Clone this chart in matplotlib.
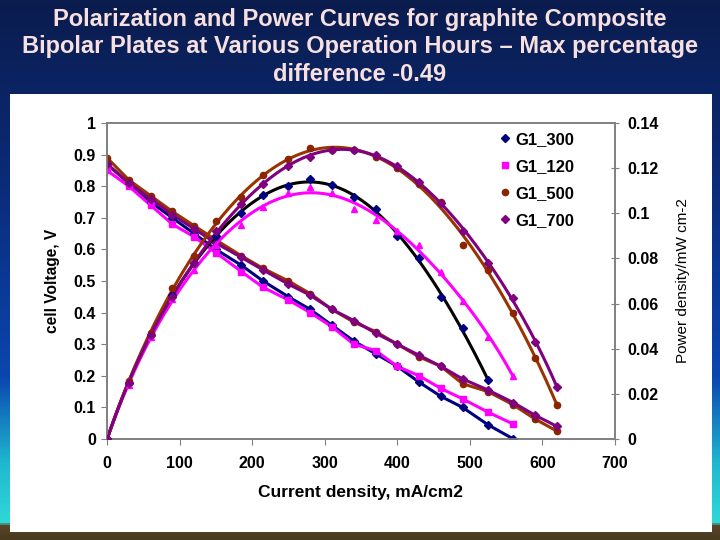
import numpy as np
import matplotlib
matplotlib.use("Agg")
import matplotlib.pyplot as plt
from matplotlib.colors import LinearSegmentedColormap
from matplotlib.patches import Rectangle

plt.rcParams['font.family'] = ['Liberation Sans', 'DejaVu Sans']

# current density steps (mA/cm2)
current = [0, 30, 60, 90, 120, 150, 185, 215, 250, 280, 310, 340, 370, 400,
           430, 460, 490, 525, 560, 590, 620]

# cell voltage, V
volt_300 = [0.87, 0.81, 0.75, 0.70, 0.65, 0.60, 0.55, 0.50, 0.45, 0.41, 0.36,
            0.31, 0.27, 0.23, 0.18, 0.135, 0.10, 0.045, 0.0]
volt_120 = [0.85, 0.80, 0.74, 0.68, 0.64, 0.59, 0.53, 0.48, 0.44, 0.40, 0.355,
            0.30, 0.28, 0.23, 0.20, 0.16, 0.127, 0.085, 0.047]
volt_500 = [0.89, 0.82, 0.77, 0.72, 0.675, 0.63, 0.58, 0.54, 0.50, 0.46, 0.41,
            0.37, 0.34, 0.30, 0.26, 0.23, 0.175, 0.15, 0.108, 0.063, 0.025]
volt_700 = [0.87, 0.81, 0.76, 0.71, 0.665, 0.62, 0.575, 0.535, 0.49, 0.455, 0.41,
            0.375, 0.335, 0.30, 0.265, 0.23, 0.19, 0.155, 0.115, 0.075, 0.04]

# power density
pow_300 = [0, 0.025, 0.046, 0.064, 0.078, 0.090, 0.100, 0.108, 0.112, 0.115,
           0.1125, 0.107, 0.102, 0.090, 0.080, 0.063, 0.049, 0.026]
pow_120 = [0, 0.024, 0.045, 0.062, 0.075, 0.086, 0.095, 0.103, 0.109, 0.1115,
           0.109, 0.102, 0.097, 0.092, 0.086, 0.074, 0.061, 0.045, 0.028]
pow_500 = [0, 0.0255, 0.047, 0.067, 0.081, 0.0965, 0.107, 0.117, 0.124, 0.129,
           0.128, 0.128, 0.125, 0.120, 0.113, 0.105, 0.086, 0.075, 0.056, 0.036, 0.015]
pow_700 = [0, 0.025, 0.046, 0.063, 0.078, 0.092, 0.104, 0.113, 0.121, 0.125,
           0.128, 0.128, 0.126, 0.121, 0.114, 0.1045, 0.092, 0.078, 0.0625, 0.043, 0.023]

navy = '#000080'
magenta = '#FF00FF'
brown = '#993300'
brown_mk = '#8B2500'
purple = '#800080'

fig = plt.figure(figsize=(7.2, 5.4), dpi=100)

# slide background
bg = fig.add_axes([0, 0, 1, 1], zorder=-10)
cmap = LinearSegmentedColormap.from_list(
    'slide', [(0, '#0b1c4e'), (0.35, '#0a2c7a'), (0.7, '#0b46b0'),
              (0.86, '#1fb8d0'), (0.97, '#30d8d8'), (0.975, '#5a4528'), (1, '#4a3a20')])
bg.imshow(np.linspace(0, 1, 540).reshape(-1, 1), aspect='auto', cmap=cmap,
          extent=[0, 1, 1, 0])
bg.add_patch(Rectangle((10 / 720, 8 / 540), 702 / 720, 438 / 540,
                       transform=bg.transAxes, facecolor='white', edgecolor='none'))
bg.set_xlim(0, 1)
bg.set_ylim(1, 0)
bg.axis('off')

fig.text(0.5, 0.985, "Polarization and Power Curves for graphite Composite\n"
         "Bipolar Plates at Various Operation Hours \u2013 Max percentage\n"
         "difference -0.49", ha='center', va='top', color='#f8e0e0',
         fontsize=17, fontweight='bold', linespacing=1.24)

ax = fig.add_axes([107 / 720, 1 - 439 / 540, 508 / 720, 316 / 540])
ax2 = ax.twinx()


def trend(x, y, deg):
    coef = np.polyfit(x, y, deg)
    xs = np.linspace(x[0], x[-1], 200)
    return xs, np.polyval(coef, xs)


series = [
    (volt_300, pow_300, navy, navy, 'black', 'D', 'D', 'G1_300'),
    (volt_120, pow_120, magenta, magenta, magenta, 's', '^', 'G1_120'),
    (volt_500, pow_500, brown_mk, brown, brown, 'o', 'o', 'G1_500'),
    (volt_700, pow_700, purple, purple, purple, 'D', 'D', 'G1_700'),
]

handles = []
for v, p, mc, lc_v, lc_p, mv, mp, name in series:
    xv = np.array(current[:len(v)], dtype=float)
    xp = np.array(current[:len(p)], dtype=float)
    ax.plot(xv, v, lw=2.2, color=lc_v, zorder=2)
    h, = ax.plot(xv, v, ls='none', marker=mv, ms=4.5, color=mc, label=name, zorder=3)
    handles.append(h)
    xs, ys = trend(xp, p, 6)
    ax2.plot(xs, ys, lw=2.2, color=lc_p, zorder=2)
    ax2.plot(xp, p, ls='none', marker=mp, ms=4.5, color=mc, zorder=3)

ax.set_xlim(0, 700)
ax.set_ylim(0, 1)
ax2.set_ylim(0, 0.14)
ax.set_xticks(range(0, 701, 100))
ax.set_yticks(np.arange(0, 1.01, 0.1))
ax.set_yticklabels(['0'] + ['%.1f' % t for t in np.arange(0.1, 0.95, 0.1)] + ['1'])
ax2.set_yticks(np.arange(0, 0.141, 0.02))
ax2.set_yticklabels(['0', '0.02', '0.04', '0.06', '0.08', '0.1', '0.12', '0.14'])

for a in (ax, ax2):
    for s in a.spines.values():
        s.set_color('#808080')
        s.set_linewidth(1.2)
    a.tick_params(colors='#808080', labelcolor='black', labelsize=11.5, length=4)
    for lbl in a.get_xticklabels() + a.get_yticklabels():
        lbl.set_fontweight('bold')
ax.tick_params(axis='x', pad=8)
ax.tick_params(axis='y', pad=4)
ax2.tick_params(axis='y', pad=6, direction='inout', length=6)

ax.set_xlabel('Current density, mA/cm2', fontsize=12.5, fontweight='bold', labelpad=10)
ax.set_ylabel('cell Voltage, V', fontsize=11.2, fontweight='bold', labelpad=10)
ax2.set_ylabel('Power density/mW cm-2', fontsize=11, labelpad=12)

ax.legend(handles=handles, loc='upper left', bbox_to_anchor=(0.770, 0.972),
          frameon=False, prop={'weight': 'bold', 'size': 12},
          borderaxespad=0, borderpad=0,
          handletextpad=0.25, labelspacing=0.72, handlelength=0.8)

fig.savefig('out.png', dpi=100)
